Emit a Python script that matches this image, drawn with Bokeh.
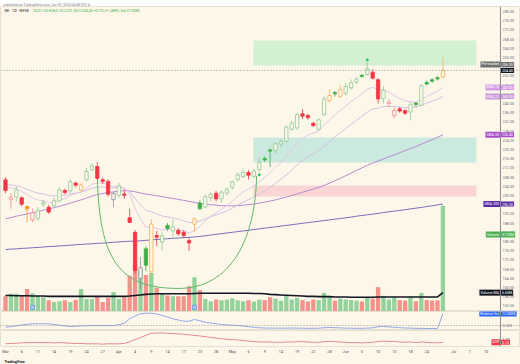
from bokeh.plotting import figure
from bokeh.layouts import column
from bokeh.models import (Range1d, FixedTicker, Label, Span, Title, PrintfTickFormatter,
                          LinearAxis)
from bokeh.embed import file_html
from bokeh.resources import INLINE

# ---------------- data (daily bars, index 0 = 2025-03-03) ----------------
opens = [206.8, 198.2, 199.4, 199.0, 195.2, 189.3, 190.0, 196.2, 194.9, 195.6,
         197.6, 202.2, 202.0, 205.4, 202.3, 206.9, 211.3, 212.6, 206.8, 206.1,
         198.2, 200.1, 200.7, 190.3, 184.0, 164.0, 176.8, 166.8, 182.6, 179.8,
         187.0, 184.6, 184.8, 184.0, 180.4, 187.5, 196.7, 195.0, 199.0, 201.0,
         198.5, 201.0, 203.5, 207.0, 208.2, 210.0, 208.3, 211.3, 216.0, 219.8,
         219.6, 222.4, 223.6, 228.8, 229.4, 235.5, 234.8, 231.4, 228.8, 235.2,
         241.3, 244.8, 243.0, 244.5, 246.8, 249.3, 252.3, 252.6, 253.6, 250.3,
         242.1, 240.0, 234.8, 237.7, 236.9, 236.3, 240.2, 239.2, 249.1, 250.3,
         251.2, 251.5]
highs = [208.0, 201.0, 203.9, 199.6, 195.6, 194.3, 195.0, 198.0, 196.0, 199.0,
         203.5, 203.0, 207.0, 206.0, 205.5, 212.0, 214.0, 214.5, 207.8, 207.0,
         201.5, 205.5, 202.5, 194.2, 185.0, 173.2, 178.0, 189.9, 184.6, 184.0,
         188.0, 189.7, 185.8, 185.0, 181.5, 190.5, 198.0, 200.5, 201.5, 202.0,
         202.5, 203.5, 206.5, 210.0, 211.5, 211.0, 211.5, 216.5, 217.0, 220.5,
         223.0, 224.5, 230.5, 232.5, 236.0, 237.5, 235.5, 232.0, 233.5, 243.0,
         246.0, 245.5, 248.0, 249.0, 250.5, 251.5, 252.8, 258.0, 255.0, 251.0,
         247.5, 242.0, 238.5, 238.5, 237.5, 240.5, 240.6, 248.5, 250.0, 251.0,
         252.0, 260.1]
lows = [201.0, 194.2, 197.4, 195.3, 188.4, 188.4, 188.8, 195.0, 192.0, 194.5,
        197.0, 200.5, 201.0, 203.5, 201.5, 206.0, 210.5, 207.0, 205.0, 199.5,
        194.9, 199.0, 198.5, 188.0, 166.0, 159.4, 167.0, 165.0, 178.0, 176.1,
        184.5, 182.0, 182.5, 181.5, 176.0, 184.0, 193.5, 194.5, 197.5, 197.5,
        197.0, 200.0, 202.5, 206.0, 207.5, 207.0, 207.5, 210.0, 214.5, 212.3,
        218.0, 221.0, 223.0, 228.0, 228.5, 233.3, 233.0, 229.8, 228.3, 234.5,
        240.5, 243.0, 242.5, 243.5, 246.0, 248.5, 251.3, 252.0, 250.5, 240.0,
        240.0, 238.4, 233.5, 236.0, 235.0, 232.6, 238.5, 238.8, 247.8, 249.0,
        250.0, 251.0]
closes = [202.2, 199.2, 202.4, 196.2, 194.2, 192.5, 193.4, 197.0, 192.8, 197.7,
          202.5, 201.3, 206.1, 204.5, 204.6, 210.5, 212.8, 207.5, 206.2, 200.5,
          200.9, 204.2, 200.1, 188.3, 167.4, 168.6, 169.7, 187.6, 181.9, 182.5,
          185.6, 186.4, 183.4, 182.6, 179.4, 189.8, 194.3, 199.5, 200.5, 198.5,
          201.5, 202.7, 206.0, 209.0, 210.0, 208.8, 210.6, 214.4, 215.5, 219.3,
          222.4, 223.5, 229.7, 231.5, 235.2, 234.5, 233.8, 230.4, 232.9, 242.0,
          243.5, 244.2, 246.0, 247.4, 249.0, 250.6, 251.7, 255.1, 251.0, 242.0,
          245.6, 240.6, 236.9, 236.7, 235.8, 239.5, 239.6, 247.8, 248.5, 249.7,
          250.7, 254.4]
volumes = [5.3, 6.2, 6.2, 5.6, 7.9, 6.4, 5.3, 5.0, 3.9, 3.3,
           3.6, 3.9, 3.3, 4.1, 7.9, 4.4, 4.4, 5.3, 3.3, 4.8,
           6.8, 4.4, 5.0, 12.5, 16.5, 14.5, 12.8, 13.5, 8.3, 6.2,
           5.6, 5.3, 5.3, 5.3, 8.8, 12.0, 7.4, 4.4, 3.6, 4.2,
           3.9, 4.2, 4.6, 3.9, 3.6, 3.9, 3.5, 4.2, 4.0, 5.0,
           4.5, 3.8, 5.5, 4.2, 4.8, 4.0, 3.5, 4.2, 4.0, 6.5,
           5.2, 3.8, 4.5, 4.2, 4.0, 3.8, 3.5, 5.0, 4.5, 8.5,
           5.5, 4.2, 5.0, 4.0, 3.8, 5.2, 3.6, 6.5, 4.0, 3.8,
           3.9, 37.0]
vol_ma = [5.6, 5.6, 5.5, 5.5, 5.5, 5.4, 5.4, 5.4, 5.3, 5.3,
          5.3, 5.3, 5.3, 5.3, 5.3, 5.3, 5.3, 5.3, 5.3, 5.3,
          5.3, 5.3, 5.3, 5.4, 5.6, 5.8, 6.0, 6.1, 6.2, 6.2,
          6.2, 6.2, 6.2, 6.2, 6.2, 6.3, 6.4, 6.4, 6.4, 6.4,
          6.4, 6.4, 6.4, 6.4, 6.4, 6.4, 6.3, 6.3, 6.2, 6.0,
          5.9, 5.8, 5.7, 5.6, 5.5, 5.4, 5.3, 5.3, 5.2, 5.2,
          5.2, 5.1, 5.1, 5.1, 5.0, 5.0, 5.0, 5.0, 5.0, 5.1,
          5.1, 5.1, 5.1, 5.1, 5.1, 5.1, 5.1, 5.1, 5.1, 5.1,
          5.1, 6.6]
ema10 = [204.1, 203.2, 203.1, 201.8, 200.4, 199.0, 198.0, 197.8, 196.9, 197.0,
         198.0, 198.6, 200.0, 200.8, 201.5, 203.1, 204.9, 205.4, 205.5, 204.6,
         203.9, 204.0, 203.3, 200.6, 194.5, 189.8, 186.2, 186.4, 185.6, 185.0,
         185.3, 185.5, 185.1, 184.7, 183.7, 184.8, 186.6, 188.9, 191.0, 192.4,
         194.0, 195.6, 197.5, 199.6, 201.5, 202.8, 204.2, 206.1, 207.8, 209.9,
         212.2, 214.2, 217.0, 219.7, 222.5, 224.7, 226.3, 227.1, 228.1, 230.7,
         233.0, 235.0, 237.0, 238.9, 240.8, 242.5, 244.2, 246.2, 247.1, 246.1,
         246.0, 244.9, 243.5, 242.2, 241.1, 240.8, 240.5, 241.8, 243.0, 244.2,
         245.4, 247.0]
ema21 = [205.0, 204.5, 204.3, 203.6, 202.7, 201.8, 201.0, 200.7, 200.0, 199.8,
         200.0, 200.1, 200.7, 201.0, 201.4, 202.2, 203.2, 203.6, 203.8, 203.5,
         203.3, 203.4, 203.1, 201.7, 198.6, 195.9, 193.5, 193.0, 192.0, 191.1,
         190.7, 190.3, 189.7, 189.0, 188.2, 188.3, 188.9, 189.8, 190.8, 191.5,
         192.4, 193.3, 194.5, 195.8, 197.1, 198.2, 199.3, 200.7, 202.0, 203.6,
         205.3, 207.0, 209.0, 211.1, 213.3, 215.2, 216.9, 218.1, 219.5, 221.5,
         223.5, 225.4, 227.3, 229.1, 230.9, 232.7, 234.4, 236.3, 237.6, 238.0,
         238.7, 238.8, 238.7, 238.5, 238.2, 238.4, 238.4, 239.3, 240.1, 241.0,
         241.9, 243.0]
sma50 = [189.9, 190.4, 191.0, 191.5, 192.0, 192.5, 193.0, 193.6, 194.1, 194.7,
         195.3, 196.0, 196.7, 197.4, 198.1, 198.9, 199.7, 200.4, 200.9, 201.3,
         201.6, 201.9, 202.1, 202.0, 201.6, 201.1, 200.6, 200.3, 199.9, 199.5,
         199.1, 198.7, 198.3, 197.9, 197.4, 197.0, 196.6, 196.3, 196.0, 195.8,
         195.6, 195.5, 195.5, 195.6, 195.8, 196.0, 196.3, 196.7, 197.1, 197.6,
         198.1, 198.7, 199.3, 200.0, 200.7, 201.4, 202.1, 202.8, 203.5, 204.4,
         205.4, 206.4, 207.5, 208.6, 209.7, 210.9, 212.0, 213.1, 214.1, 215.0,
         215.9, 216.8, 217.7, 218.6, 219.5, 220.4, 221.3, 222.3, 223.3, 224.3,
         225.3, 226.4]
sma200 = [176.5, 176.7, 176.8, 177.0, 177.1, 177.3, 177.4, 177.6, 177.8, 177.9,
          178.1, 178.2, 178.4, 178.6, 178.7, 178.9, 179.0, 179.2, 179.3, 179.5,
          179.7, 179.8, 180.0, 180.1, 180.2, 180.3, 180.5, 180.7, 180.9, 181.0,
          181.2, 181.4, 181.5, 181.7, 181.8, 182.0, 182.2, 182.5, 182.8, 183.1,
          183.4, 183.7, 184.0, 184.3, 184.6, 184.9, 185.2, 185.5, 185.8, 186.1,
          186.4, 186.7, 187.0, 187.3, 187.6, 187.9, 188.2, 188.5, 188.8, 189.1,
          189.4, 189.7, 190.0, 190.3, 190.6, 191.0, 191.3, 191.6, 191.9, 192.2,
          192.6, 192.9, 193.2, 193.5, 193.8, 194.2, 194.5, 194.8, 195.2, 195.5,
          195.9, 196.3]
rel_vol = [-1.7, -1.0, -0.3, 0.5, 1.2, 1.7, 1.8, 1.8, 1.7, 1.0,
           0.3, -0.4, -1.0, -0.8, -0.4, -0.2, 0.0, 0.0, -0.2, -0.1,
           0.0, 0.8, 2.3, 6.7, 9.5, 11.7, 12.2, 12.3, 11.5, 10.0,
           8.3, 6.7, 5.5, 4.3, 4.3, 6.0, 4.8, 3.3, 2.5, 1.8,
           1.0, 0.6, 0.3, 0.0, -0.6, -1.2, -1.8, -2.3, -2.5, -2.6,
           -2.6, -2.7, -2.6, -2.5, -2.6, -2.7, -2.8, -2.8, -2.7, -2.2,
           -2.0, -2.2, -2.4, -2.6, -2.7, -2.8, -2.8, -2.6, -2.4, -1.2,
           -1.0, -1.4, -1.8, -2.2, -2.5, -2.6, -2.8, -2.9, -3.0, -3.0,
           -3.1, 12.0]
atr = [4.6, 4.7, 4.8, 4.9, 5.0, 5.0, 5.0, 5.0, 5.0, 4.9,
       5.0, 4.9, 4.8, 4.7, 4.7, 4.6, 4.6, 4.6, 4.5, 4.6,
       4.6, 4.6, 4.7, 5.3, 6.0, 6.7, 7.4, 8.1, 8.2, 8.2,
       8.1, 8.0, 7.9, 7.8, 7.6, 7.4, 7.2, 7.0, 6.7, 6.5,
       6.3, 6.1, 6.0, 5.9, 5.7, 5.5, 5.4, 5.2, 5.2, 5.2,
       5.1, 5.1, 5.2, 5.2, 5.3, 5.3, 5.2, 5.1, 5.1, 5.3,
       5.4, 5.3, 5.2, 5.1, 5.0, 5.0, 4.9, 5.0, 5.1, 5.4,
       5.5, 5.4, 5.4, 5.2, 5.1, 5.2, 5.0, 5.2, 5.1, 5.0,
       4.9, 5.1]

# bars highlighted by the colouring script (high relative volume)
orange_bars = [4, 14, 27, 35, 60, 62, 81]
gray_bars = [20, 25]

# drawn zones (bar index span, price band)
zone_from, zone_to = 45.9, 87.2
zone_lo = [256.5, 214.3, 199.6]
zone_hi = [267.4, 225.2, 204.3]

# cup drawing: two cubic segments (bar index, price)
cup_x0 = [17.0, 32.0]
cup_y0 = [208.0, 159.6]
cup_x1 = [32.0, 46.5]
cup_y1 = [159.6, 208.5]
cup_cx0 = [17.4, 42.0]
cup_cy0 = [172.0, 159.6]
cup_cx1 = [21.0, 46.3]
cup_cy1 = [159.6, 182.0]

sig_x = [47, 67]
sig_y = [209.0, 259.0]
event_idx = [5, 35]
volume_tag_level = 183.0     # where the volume value sits on the price scale

price_ticks = list(range(152, 284, 4))
tick_pos = [0, 3, 6, 9, 12, 15, 18, 21, 24, 27, 30, 33, 36, 39, 42, 45, 48, 51, 54, 57,
            60, 63, 66, 69, 72, 75, 78, 83, 86, 89]
tick_text = ["Mar", "6", "11", "14", "19", "24", "27", "Apr", "4", "9", "14", "17", "23", "28",
             "May", "6", "9", "14", "19", "22", "28", "Jun", "5", "10", "13", "18", "24",
             "Jul", "7", "10"]

symbol = "GE · 1D · NYSE"
header = "published on TradingView.com, Jun 30, 2025 04:08 UTC-4"

# ---------------- styling ----------------
BG = "#fdf7ea"
FONT = "Roboto"
GREEN, GREEN_L = "#3fae49", "#8fcc93"
RED, RED_L = "#f23645", "#f28b93"
ORANGE, ORANGE_L = "#f7941d", "#f6b15a"
GRAY = "#8a8d96"
n = len(closes)
idx = list(range(n))
XR = Range1d(-5 / 5.4, 515 / 5.4)
AXIS_X = 495 / 5.4          # price-scale line position (bar units)


def pane(fh, yr, xaxis=False):
    f = figure(frame_width=520, frame_height=fh, x_range=XR, y_range=yr,
               toolbar_location=None, output_backend="svg",
               y_axis_location=None, x_axis_location="below" if xaxis else None,
               min_border=0, min_border_left=0, min_border_right=0,
               min_border_top=0, min_border_bottom=0,
               background_fill_color=BG, border_fill_color=BG,
               outline_line_color="#e6e0d3")
    f.grid.visible = False
    return f


def price_axis(f, ticks, fmt):
    ax = LinearAxis(fixed_location=AXIS_X, ticker=FixedTicker(ticks=ticks),
                    formatter=PrintfTickFormatter(format=fmt),
                    axis_line_color="#8a8d96", major_tick_line_color=None,
                    minor_tick_line_color=None, major_tick_out=0, major_tick_in=0,
                    minor_tick_out=0, minor_tick_in=0,
                    major_label_text_font_size="3.8px",
                    major_label_text_color="#6a6d78", major_label_text_font=FONT,
                    major_label_standoff=2)
    f.add_layout(ax, "right")


def tag(f, y, val, bg, name=None, fg="#ffffff", rng="default"):
    f.add_layout(Label(x=AXIS_X, y=y, x_offset=0.5, text=val, text_align="left",
                       text_baseline="middle", text_font_size="3.6px", text_font=FONT,
                       text_color=fg, background_fill_color=bg, padding=1,
                       y_range_name=rng))
    if name:
        f.add_layout(Label(x=AXIS_X, y=y, x_offset=-0.5, text=name, text_align="right",
                           text_baseline="middle", text_font_size="3.6px", text_font=FONT,
                           text_color=fg, background_fill_color=bg, padding=1,
                           y_range_name=rng))


# ---------------- main pane ----------------
YR1 = Range1d(280 - 305 / 2.3 + 5 / 2.3, 280 + 5 / 2.3)
p1 = pane(305, YR1)
p1.min_border_top = 6
p1.border_fill_color = "#ffffff"
p1.add_layout(Title(text=header, align="left", text_font_size="3.4px", text_color="#787b86",
                    text_font_style="normal", text_font=FONT, standoff=0, offset=3), "above")
price_axis(p1, price_ticks, "%.2f")

p1.quad(left=zone_from, right=zone_to, bottom=zone_lo, top=zone_hi,
        fill_color=["#d3f0d2", "#cbe9df", "#f9d6d3"], line_color=None)

p1.extra_y_ranges = {"vol": Range1d(0, 305 * 0.35)}
vol_col = ["#93d29b" if c >= o else "#f4928c" for o, c in zip(opens, closes)]
p1.vbar(x=idx, top=volumes, bottom=0, width=0.8, y_range_name="vol",
        fill_color=vol_col, line_color=None)
p1.line(idx, vol_ma, y_range_name="vol", line_color="#131722", line_width=1.6)

p1.line(idx, sma200, line_color="#7d6bb8", line_width=1)
p1.line(idx, sma50, line_color="#b58bd0", line_width=1)
p1.line(idx, ema21, line_color="#d4c1e2", line_width=1)
p1.line(idx, ema10, line_color="#e2c6e6", line_width=1)

p1.bezier(x0=cup_x0, y0=cup_y0, x1=cup_x1, y1=cup_y1, cx0=cup_cx0, cy0=cup_cy0,
          cx1=cup_cx1, cy1=cup_cy1, line_color="#5fb866", line_width=1)

p1.add_layout(Span(location=closes[-1], dimension="width", line_color="#9a9588",
                   line_dash="1 2", line_width=1))

prev = [opens[0]] + closes[:-1]
edge, fill, tops, bots = [], [], [], []
for i in idx:
    o, c = opens[i], closes[i]
    hollow = c > o
    if i in orange_bars:
        col, col_l = ORANGE, ORANGE_L
    elif i in gray_bars:
        col, col_l = GRAY, GRAY
    elif c >= prev[i]:
        col, col_l = GREEN, GREEN_L
    else:
        col, col_l = RED, RED_L
    edge.append(col_l if hollow else col)
    fill.append(BG if hollow else col)
    t, b = max(o, c), min(o, c)
    if t - b < 0.5:
        m = (t + b) / 2
        t, b = m + 0.25, m - 0.25
    tops.append(t)
    bots.append(b)
p1.segment(x0=idx, y0=lows, x1=idx, y1=highs, line_color=edge, line_width=0.8)
p1.vbar(x=idx, top=tops, bottom=bots, width=0.62, fill_color=fill, line_color=edge,
        line_width=0.8)

p1.scatter(sig_x, sig_y, size=3, fill_color="#2ecc71", line_color=None)
p1.scatter(event_idx, [YR1.start + 1.8] * len(event_idx), marker="square", size=4,
           fill_color="#a9c6f7", line_color="#5b8def", line_width=0.6)

chg = closes[-1] - closes[-2]
legend_vals = "O{:.2f} H{:.2f} L{:.2f} C{:.2f} {:+.2f} ({:+.2f}%) Vol {:.2f}M".format(
    opens[-1], highs[-1], lows[-1], closes[-1], chg, chg / closes[-2] * 100, volumes[-1])
p1.add_layout(Label(x=XR.start, y=YR1.end, x_offset=4, y_offset=-1, text=symbol,
                    text_baseline="top", text_font_size="3.8px", text_font=FONT,
                    text_color="#131722"))
p1.add_layout(Label(x=XR.start, y=YR1.end, x_offset=33, y_offset=-1, text=legend_vals,
                    text_baseline="top", text_font_size="3.8px", text_font=FONT,
                    text_color="#3fae49"))

tag(p1, ema10[-1], "{:.2f}".format(ema10[-1]), "#d59be3", "EMA 10")
tag(p1, ema21[-1], "{:.2f}".format(ema21[-1]), "#c99ad9", "EMA 21")
tag(p1, sma50[-1], "{:.2f}".format(sma50[-1]), "#a64dcc", "SMA 50")
tag(p1, sma200[-1], "{:.2f}".format(sma200[-1]), "#5a2ca0", "SMA 200")
tag(p1, closes[-1] + 2.6, "{:.2f}".format(highs[-1] - 3.2), "#6f6f6f", "Pre-market")
tag(p1, closes[-1], "{:.2f}".format(closes[-1]), "#131722")
tag(p1, volume_tag_level, "{:.2f}M".format(volumes[-1]), "#4caf50", "Volume")
tag(p1, vol_ma[-1], "{:.2f}M".format(vol_ma[-1]), "#131722", "Volume MA", rng="vol")

# ---------------- relative volume pane ----------------
YR2 = Range1d(-5, 14)
p2 = pane(19, YR2)
price_axis(p2, [0], "%.3f")
p2.add_layout(Span(location=0, dimension="width", line_color="#9a9588", line_dash="1 2",
                   line_width=1))
p2.line(idx, rel_vol, line_color="#8fa8e8", line_width=1)
tag(p2, rel_vol[-1], "{:.3f}%".format(rel_vol[-1]), "#2962ff", "Relative Vol")

# ---------------- ATR pane ----------------
YR3 = Range1d(3.7, 9.03)
p3 = pane(16, YR3, xaxis=True)
price_axis(p3, [6], "%.2f")
p3.line(idx, atr, line_color="#e58a8a", line_width=1)
tag(p3, atr[-1], "{:.2f}".format(atr[-1]), "#f23645", "ATR")
xa = p3.xaxis[0]
xa.ticker = FixedTicker(ticks=tick_pos)
xa.major_label_overrides = {p: t for p, t in zip(tick_pos, tick_text)}
xa.major_label_text_font_size = "3.8px"
xa.major_label_text_font = FONT
xa.major_label_text_color = "#4a4d58"
xa.major_tick_line_color = None
xa.minor_tick_line_color = None
xa.major_tick_out = 0
xa.major_tick_in = 0
xa.minor_tick_out = 0
xa.minor_tick_in = 0
xa.axis_line_color = "#e6e0d3"
xa.major_label_standoff = 2
p3.add_layout(Title(text="TradingView", align="left", text_font_size="3.6px",
                    text_color="#131722", text_font_style="bold", text_font=FONT,
                    standoff=2, offset=4), "below")

layout = column(p1, p2, p3, spacing=0)
open("out.html", "w").write(file_html(layout, INLINE))
